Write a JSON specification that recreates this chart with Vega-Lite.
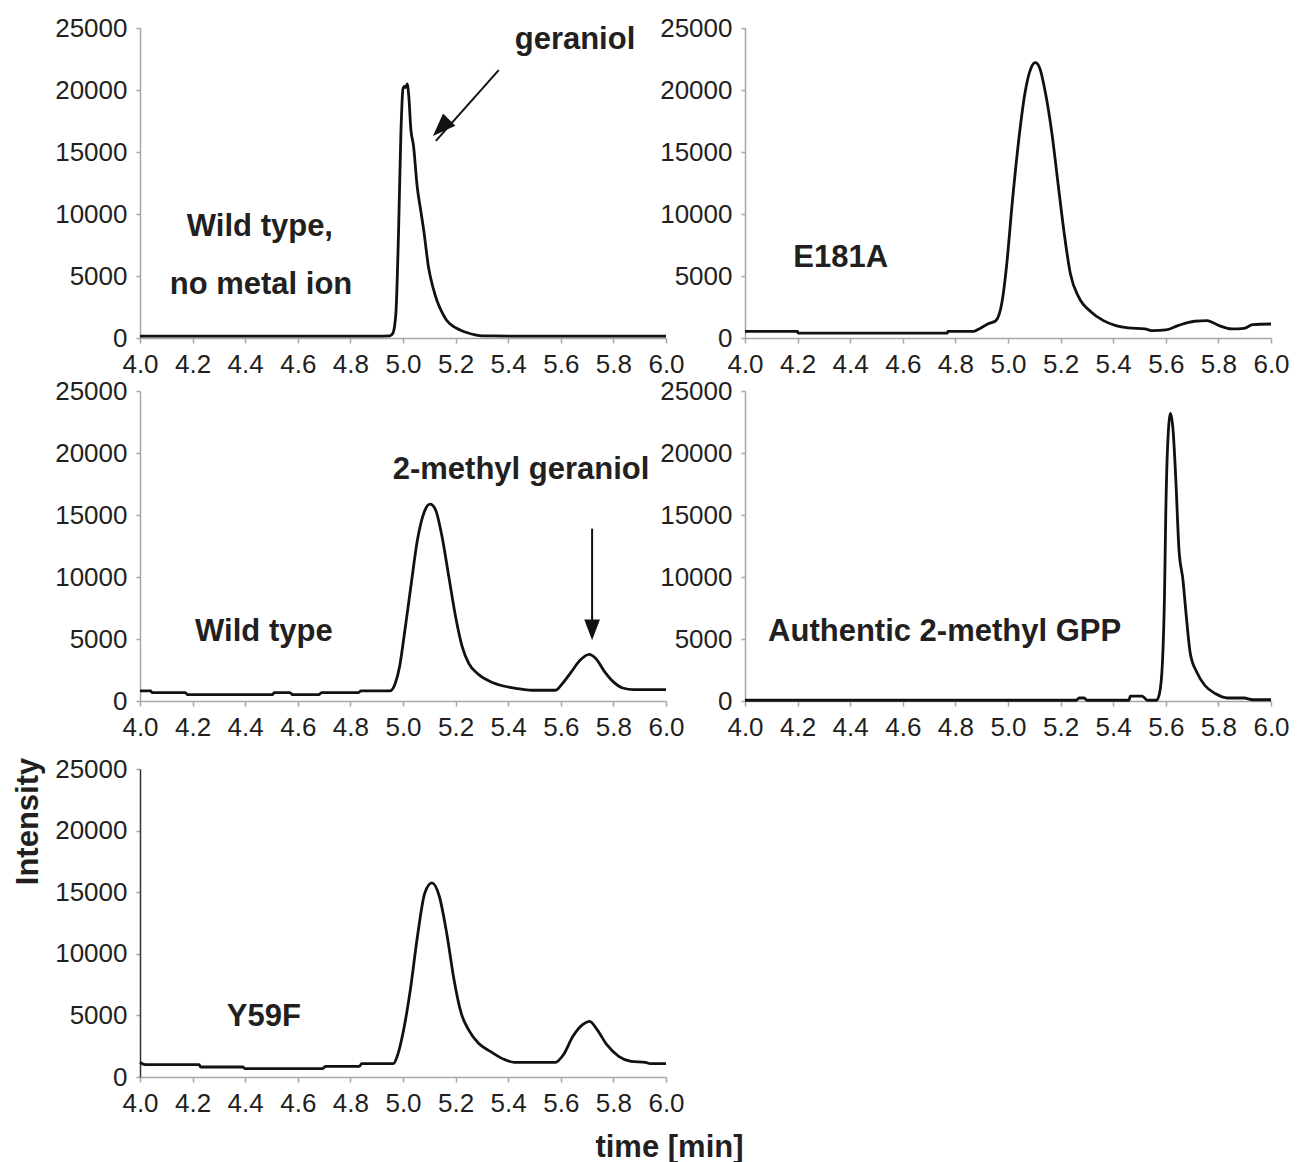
{
  "$schema": "https://vega.github.io/schema/vega-lite/v6.json",
  "padding": {"left": 12, "top": 15, "right": 5, "bottom": 5},
  "autosize": {"type": "pad"},
  "background": "white",
  "datasets": {
    "wt_nometal": [
      {"t": 4.0, "I": 150}, {"t": 4.3, "I": 150}, {"t": 4.6, "I": 150}, {"t": 4.9, "I": 150},
      {"t": 4.95, "I": 170}, {"t": 4.962, "I": 400}, {"t": 4.973, "I": 2000}, {"t": 4.983, "I": 8500},
      {"t": 4.992, "I": 16500}, {"t": 5.0, "I": 20100}, {"t": 5.005, "I": 20300}, {"t": 5.01, "I": 20200},
      {"t": 5.016, "I": 20500}, {"t": 5.022, "I": 19500}, {"t": 5.03, "I": 16800}, {"t": 5.04, "I": 15500},
      {"t": 5.054, "I": 12200}, {"t": 5.068, "I": 10200}, {"t": 5.08, "I": 8500}, {"t": 5.097, "I": 5700},
      {"t": 5.115, "I": 4000}, {"t": 5.131, "I": 2900}, {"t": 5.15, "I": 2000}, {"t": 5.165, "I": 1450},
      {"t": 5.19, "I": 950}, {"t": 5.217, "I": 650}, {"t": 5.245, "I": 420}, {"t": 5.275, "I": 250},
      {"t": 5.3, "I": 170}, {"t": 5.5, "I": 150}, {"t": 6.0, "I": 150}
    ],
    "e181a": [
      {"t": 4.0, "I": 540}, {"t": 4.2, "I": 540}, {"t": 4.201, "I": 400}, {"t": 4.77, "I": 400},
      {"t": 4.771, "I": 540}, {"t": 4.87, "I": 540}, {"t": 4.89, "I": 730}, {"t": 4.923, "I": 1130},
      {"t": 4.954, "I": 1400}, {"t": 4.978, "I": 3000}, {"t": 4.994, "I": 5700}, {"t": 5.017, "I": 11100},
      {"t": 5.041, "I": 16000}, {"t": 5.064, "I": 19700}, {"t": 5.088, "I": 21800}, {"t": 5.104, "I": 22200},
      {"t": 5.12, "I": 21800}, {"t": 5.143, "I": 19700}, {"t": 5.167, "I": 16500}, {"t": 5.19, "I": 12500},
      {"t": 5.214, "I": 8400}, {"t": 5.237, "I": 5200}, {"t": 5.269, "I": 3300}, {"t": 5.316, "I": 2100},
      {"t": 5.363, "I": 1400}, {"t": 5.41, "I": 1000}, {"t": 5.457, "I": 810}, {"t": 5.52, "I": 730},
      {"t": 5.552, "I": 590}, {"t": 5.6, "I": 650}, {"t": 5.646, "I": 1000}, {"t": 5.709, "I": 1350},
      {"t": 5.756, "I": 1400}, {"t": 5.803, "I": 1000}, {"t": 5.85, "I": 730}, {"t": 5.898, "I": 780},
      {"t": 5.93, "I": 1080}, {"t": 6.0, "I": 1130}
    ],
    "wt": [
      {"t": 4.0, "I": 810}, {"t": 4.04, "I": 810}, {"t": 4.046, "I": 680}, {"t": 4.173, "I": 680},
      {"t": 4.18, "I": 510}, {"t": 4.504, "I": 510}, {"t": 4.51, "I": 680}, {"t": 4.57, "I": 680},
      {"t": 4.58, "I": 510}, {"t": 4.68, "I": 510}, {"t": 4.69, "I": 680}, {"t": 4.83, "I": 680},
      {"t": 4.84, "I": 810}, {"t": 4.95, "I": 810}, {"t": 4.97, "I": 1400}, {"t": 4.987, "I": 2760},
      {"t": 5.004, "I": 5200}, {"t": 5.03, "I": 9250}, {"t": 5.055, "I": 13000}, {"t": 5.08, "I": 15200},
      {"t": 5.103, "I": 15870}, {"t": 5.123, "I": 15460}, {"t": 5.148, "I": 13300}, {"t": 5.174, "I": 10050},
      {"t": 5.2, "I": 6800}, {"t": 5.225, "I": 4380}, {"t": 5.25, "I": 3030}, {"t": 5.284, "I": 2200},
      {"t": 5.335, "I": 1540}, {"t": 5.386, "I": 1190}, {"t": 5.437, "I": 1000}, {"t": 5.488, "I": 865},
      {"t": 5.58, "I": 865}, {"t": 5.606, "I": 1400}, {"t": 5.64, "I": 2350}, {"t": 5.674, "I": 3300},
      {"t": 5.708, "I": 3760}, {"t": 5.733, "I": 3430}, {"t": 5.767, "I": 2350}, {"t": 5.8, "I": 1540},
      {"t": 5.835, "I": 1050}, {"t": 5.878, "I": 920}, {"t": 6.0, "I": 920}
    ],
    "auth": [
      {"t": 4.0, "I": 60}, {"t": 5.26, "I": 60}, {"t": 5.27, "I": 240}, {"t": 5.29, "I": 240},
      {"t": 5.3, "I": 60}, {"t": 5.46, "I": 60}, {"t": 5.465, "I": 400}, {"t": 5.51, "I": 400},
      {"t": 5.53, "I": 60}, {"t": 5.565, "I": 60}, {"t": 5.576, "I": 600}, {"t": 5.587, "I": 3000},
      {"t": 5.595, "I": 8450}, {"t": 5.6, "I": 15200}, {"t": 5.607, "I": 20600}, {"t": 5.618, "I": 23200},
      {"t": 5.627, "I": 22000}, {"t": 5.638, "I": 17900}, {"t": 5.65, "I": 12250}, {"t": 5.665, "I": 9800},
      {"t": 5.678, "I": 6830}, {"t": 5.693, "I": 3850}, {"t": 5.717, "I": 2360}, {"t": 5.748, "I": 1270},
      {"t": 5.788, "I": 600}, {"t": 5.835, "I": 240}, {"t": 5.898, "I": 240}, {"t": 5.93, "I": 100},
      {"t": 6.0, "I": 100}
    ],
    "y59f": [
      {"t": 4.0, "I": 1190}, {"t": 4.02, "I": 1000}, {"t": 4.225, "I": 1000}, {"t": 4.23, "I": 810},
      {"t": 4.39, "I": 810}, {"t": 4.4, "I": 680}, {"t": 4.695, "I": 680}, {"t": 4.705, "I": 870},
      {"t": 4.834, "I": 870}, {"t": 4.843, "I": 1080}, {"t": 4.963, "I": 1080}, {"t": 4.98, "I": 1810},
      {"t": 5.0, "I": 3570}, {"t": 5.028, "I": 7090}, {"t": 5.055, "I": 11420}, {"t": 5.083, "I": 14940},
      {"t": 5.11, "I": 15750}, {"t": 5.138, "I": 14670}, {"t": 5.166, "I": 11690}, {"t": 5.194, "I": 7900},
      {"t": 5.221, "I": 5200}, {"t": 5.249, "I": 3840}, {"t": 5.286, "I": 2760}, {"t": 5.332, "I": 2080},
      {"t": 5.387, "I": 1410}, {"t": 5.424, "I": 1190}, {"t": 5.58, "I": 1190}, {"t": 5.61, "I": 1810},
      {"t": 5.646, "I": 3300}, {"t": 5.683, "I": 4250}, {"t": 5.71, "I": 4520}, {"t": 5.738, "I": 3840},
      {"t": 5.775, "I": 2620}, {"t": 5.82, "I": 1680}, {"t": 5.867, "I": 1270}, {"t": 5.922, "I": 1190},
      {"t": 5.94, "I": 1080}, {"t": 6.0, "I": 1080}
    ]
  },
  "bounds": "flush",
  "columns": 2,
  "spacing": {"row": 53, "column": 79},
  "concat": [
    {
      "width": 526, "height": 310,
      "layer": [
        {
          "data": {"name": "wt_nometal"},
          "mark": {"type": "line", "color": "#111111", "strokeWidth": 2.8, "interpolate": "monotone"},
          "encoding": {
            "x": {"field": "t", "type": "quantitative", "scale": {"domain": [4, 6], "nice": false, "zero": false}, "axis": {"values": [4, 4.2, 4.4, 4.6, 4.8, 5, 5.2, 5.4, 5.6, 5.8, 6], "format": ".1f", "title": null}},
            "y": {"field": "I", "type": "quantitative", "scale": {"domain": [0, 25000], "nice": false}, "axis": {"values": [0, 5000, 10000, 15000, 20000, 25000], "format": "d", "title": null}}
          }
        },
        {
          "data": {"values": [
            {"t": 4.456, "I": 8950, "label": "Wild type,"},
            {"t": 4.46, "I": 4270, "label": "no metal ion"},
            {"t": 5.654, "I": 24030, "label": "geraniol"}
          ]},
          "mark": {"type": "text", "font": "Liberation Sans", "fontSize": 31, "fontWeight": "bold", "color": "#231f20", "align": "center", "baseline": "middle"},
          "encoding": {"x": {"field": "t", "type": "quantitative"}, "y": {"field": "I", "type": "quantitative"}, "text": {"field": "label"}}
        },
        {
          "data": {"values": [{"t": 5.364, "I": 21600, "t2": 5.125, "I2": 15900}]},
          "mark": {"type": "rule", "color": "#111111", "strokeWidth": 2},
          "encoding": {"x": {"field": "t", "type": "quantitative"}, "y": {"field": "I", "type": "quantitative"}, "x2": {"field": "t2"}, "y2": {"field": "I2"}}
        },
        {
          "data": {"values": [{"t": 5.364, "I": 21600, "t2": 5.114, "I2": 16300}]},
          "mark": {"type": "point", "shape": "M0,0L-0.38,-1L0.38,-1Z", "size": 2100, "angle": 45, "filled": true, "color": "#111111", "opacity": 1},
          "encoding": {"x": {"field": "t2", "type": "quantitative"}, "y": {"field": "I2", "type": "quantitative"}}
        }
      ]
    },
    {
      "width": 526, "height": 310,
      "layer": [
        {
          "data": {"name": "e181a"},
          "mark": {"type": "line", "color": "#111111", "strokeWidth": 2.8, "interpolate": "monotone"},
          "encoding": {
            "x": {"field": "t", "type": "quantitative", "scale": {"domain": [4, 6], "nice": false, "zero": false}, "axis": {"values": [4, 4.2, 4.4, 4.6, 4.8, 5, 5.2, 5.4, 5.6, 5.8, 6], "format": ".1f", "title": null}},
            "y": {"field": "I", "type": "quantitative", "scale": {"domain": [0, 25000], "nice": false}, "axis": {"values": [0, 5000, 10000, 15000, 20000, 25000], "format": "d", "title": null}}
          }
        },
        {
          "data": {"values": [{"t": 4.364, "I": 6450, "label": "E181A"}]},
          "mark": {"type": "text", "font": "Liberation Sans", "fontSize": 31, "fontWeight": "bold", "color": "#231f20", "align": "center", "baseline": "middle"},
          "encoding": {"x": {"field": "t", "type": "quantitative"}, "y": {"field": "I", "type": "quantitative"}, "text": {"field": "label"}}
        }
      ]
    },
    {
      "width": 526, "height": 310,
      "layer": [
        {
          "data": {"name": "wt"},
          "mark": {"type": "line", "color": "#111111", "strokeWidth": 2.8, "interpolate": "monotone"},
          "encoding": {
            "x": {"field": "t", "type": "quantitative", "scale": {"domain": [4, 6], "nice": false, "zero": false}, "axis": {"values": [4, 4.2, 4.4, 4.6, 4.8, 5, 5.2, 5.4, 5.6, 5.8, 6], "format": ".1f", "title": null}},
            "y": {"field": "I", "type": "quantitative", "scale": {"domain": [0, 25000], "nice": false}, "axis": {"values": [0, 5000, 10000, 15000, 20000, 25000], "format": "d", "title": null}}
          }
        },
        {
          "data": {"values": [
            {"t": 4.471, "I": 5530, "label": "Wild type"},
            {"t": 5.449, "I": 18600, "label": "2-methyl geraniol"}
          ]},
          "mark": {"type": "text", "font": "Liberation Sans", "fontSize": 31, "fontWeight": "bold", "color": "#231f20", "align": "center", "baseline": "middle"},
          "encoding": {"x": {"field": "t", "type": "quantitative"}, "y": {"field": "I", "type": "quantitative"}, "text": {"field": "label"}}
        },
        {
          "data": {"values": [{"t": 5.719, "I": 13900, "t2": 5.719, "I2": 5600}]},
          "mark": {"type": "rule", "color": "#111111", "strokeWidth": 2},
          "encoding": {"x": {"field": "t", "type": "quantitative"}, "y": {"field": "I", "type": "quantitative"}, "x2": {"field": "t2"}, "y2": {"field": "I2"}}
        },
        {
          "data": {"values": [{"t": 5.719, "I": 13900, "t2": 5.719, "I2": 4900}]},
          "mark": {"type": "point", "shape": "M0,0L-0.38,-1L0.38,-1Z", "size": 1700, "angle": 0, "filled": true, "color": "#111111", "opacity": 1},
          "encoding": {"x": {"field": "t2", "type": "quantitative"}, "y": {"field": "I2", "type": "quantitative"}}
        }
      ]
    },
    {
      "width": 526, "height": 310,
      "layer": [
        {
          "data": {"name": "auth"},
          "mark": {"type": "line", "color": "#111111", "strokeWidth": 2.8, "interpolate": "monotone"},
          "encoding": {
            "x": {"field": "t", "type": "quantitative", "scale": {"domain": [4, 6], "nice": false, "zero": false}, "axis": {"values": [4, 4.2, 4.4, 4.6, 4.8, 5, 5.2, 5.4, 5.6, 5.8, 6], "format": ".1f", "title": null}},
            "y": {"field": "I", "type": "quantitative", "scale": {"domain": [0, 25000], "nice": false}, "axis": {"values": [0, 5000, 10000, 15000, 20000, 25000], "format": "d", "title": null}}
          }
        },
        {
          "data": {"values": [{"t": 4.759, "I": 5530, "label": "Authentic 2-methyl GPP"}]},
          "mark": {"type": "text", "font": "Liberation Sans", "fontSize": 31, "fontWeight": "bold", "color": "#231f20", "align": "center", "baseline": "middle"},
          "encoding": {"x": {"field": "t", "type": "quantitative"}, "y": {"field": "I", "type": "quantitative"}, "text": {"field": "label"}}
        }
      ]
    },
    {
      "width": 526, "height": 323,
      "layer": [
        {
          "data": {"name": "y59f"},
          "mark": {"type": "line", "color": "#111111", "strokeWidth": 2.8, "interpolate": "monotone"},
          "encoding": {
            "x": {"field": "t", "type": "quantitative", "scale": {"domain": [4, 6], "nice": false, "zero": false}, "axis": {"values": [4, 4.2, 4.4, 4.6, 4.8, 5, 5.2, 5.4, 5.6, 5.8, 6], "format": ".1f", "title": "time [min]", "titleX": 529, "titleY": 70, "titleAlign": "center", "titleBaseline": "middle", "titleAngle": 0}},
            "y": {"field": "I", "type": "quantitative", "scale": {"domain": [0, 25000], "nice": false, "range": [323, 15]}, "axis": {"values": [0, 5000, 10000, 15000, 20000, 25000], "format": "d", "title": "Intensity", "titleX": -112, "titleY": 67, "titleAlign": "center", "titleBaseline": "middle", "titleAngle": 270, "domainColor": "#333333"}}
          }
        },
        {
          "data": {"values": [{"t": 4.471, "I": 4840, "label": "Y59F"}]},
          "mark": {"type": "text", "font": "Liberation Sans", "fontSize": 31, "fontWeight": "bold", "color": "#231f20", "align": "center", "baseline": "middle"},
          "encoding": {"x": {"field": "t", "type": "quantitative"}, "y": {"field": "I", "type": "quantitative"}, "text": {"field": "label"}}
        }
      ]
    }
  ],
  "config": {
    "view": {"stroke": null},
    "axis": {
      "grid": false,
      "labelFont": "Liberation Sans",
      "labelFontSize": 26,
      "labelColor": "#231f20",
      "domainColor": "#a6a6a6",
      "domainWidth": 1.5,
      "tickColor": "#a6a6a6",
      "tickWidth": 1.5,
      "titleFont": "Liberation Sans",
      "titleFontSize": 31,
      "titleFontWeight": "bold",
      "titleColor": "#231f20",
      "labelOverlap": false,
      "labelFlush": false
    },
    "axisX": {"tickSize": 5, "labelPadding": 8},
    "axisY": {"tickSize": 4, "labelPadding": 9}
  }
}
